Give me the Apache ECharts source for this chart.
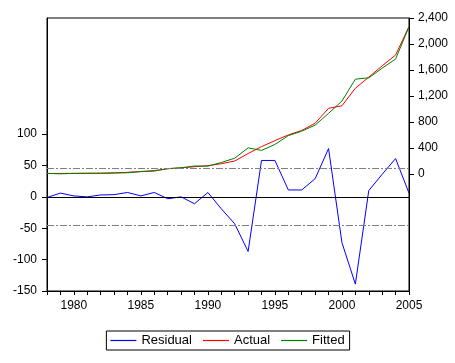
<!DOCTYPE html>
<html>
<head>
<meta charset="utf-8">
<script src="https://cdn.jsdelivr.net/npm/echarts@6/dist/echarts.min.js"></script>
<style>
html,body{margin:0;padding:0;background:#fff;}
#chart{width:455px;height:363px;}
</style>
</head>
<body>
<div id="chart"></div>
<script>
var years = [1978,1979,1980,1981,1982,1983,1984,1985,1986,1987,1988,1989,1990,1991,1992,1993,1994,1995,1996,1997,1998,1999,2000,2001,2002,2003,2004,2005];
var residual = [-1,6,1.5,0,3,3.5,7,1.5,7,-3,0,-11,7,-19,-43,-87,58,58,11,11,29,77,-73,-139,10,36,61,6];
var actual = [8,9,10,11,13,18,26,38,52,80,95,112,128,158,200,315,421,513,601,670,781,1010,1050,1320,1490,1664,1830,2270];
var fitted = [9,3,8.5,11,10,14.5,19,36.5,45,83,95,123,121,177,243,402,363,455,590,659,752,933,1123,1459,1480,1628,1769,2264];
var xLabelYears = [1980,1985,1990,1995,2000,2005];
var leftTicks = [-150,-100,-50,0,50,100];
var rightTicks = [0,400,800,1200,1600,2000,2400];
var seBand = 45.5;

function pairs(v){ return years.map(function(y,i){ return [y, v[i]]; }); }

var FONT = '"Liberation Sans", Arial, sans-serif';
var chart = echarts.init(document.getElementById('chart'), null, {renderer:'canvas'});
chart.setOption({
  animation:false,
  backgroundColor:'#fff',
  grid:{left:47,right:46,top:18,bottom:72,show:true,borderColor:'#000',borderWidth:1,backgroundColor:'transparent'},
  legend:{
    data:[{name:'Residual',icon:'rect'},{name:'Actual',icon:'rect'},{name:'Fitted',icon:'rect'}],
    top:331,left:'center',
    itemWidth:26,itemHeight:1.2,itemGap:11,
    padding:[3,5,3,4],
    borderColor:'#000',borderWidth:1,borderRadius:0,backgroundColor:'#fff',
    textStyle:{fontFamily:FONT,fontSize:13,color:'#000'}
  },
  xAxis:{
    type:'value',min:1978,max:2005,
    axisLine:{show:true,onZero:false,lineStyle:{color:'#000',width:1}},
    axisTick:{show:true,length:4,inside:false,customValues:years,lineStyle:{color:'#000'}},
    axisLabel:{customValues:xLabelYears,margin:9,fontFamily:FONT,fontSize:12,color:'#000',
      formatter:function(v){ return String(v); }},
    splitLine:{show:false}
  },
  yAxis:[{
    type:'value',min:-150,max:285,position:'left',
    axisLine:{show:true,onZero:false,lineStyle:{color:'#000'}},
    axisTick:{show:true,length:5,customValues:leftTicks,lineStyle:{color:'#000'}},
    axisLabel:{customValues:leftTicks,margin:10,fontFamily:FONT,fontSize:12,color:'#000'},
    splitLine:{show:false}
  },{
    type:'value',min:-1800,max:2400,position:'right',
    axisLine:{show:true,onZero:false,lineStyle:{color:'#000'}},
    axisTick:{show:true,length:5,customValues:rightTicks,lineStyle:{color:'#000'}},
    axisLabel:{customValues:rightTicks,margin:9,fontFamily:FONT,fontSize:12,color:'#000',
      formatter:function(v){ return v.toLocaleString('en-US'); }},
    splitLine:{show:false}
  }],
  series:[{
    name:'Residual',type:'line',yAxisIndex:0,data:pairs(residual),
    symbol:'none',lineStyle:{color:'#0000ff',width:1},itemStyle:{color:'#0000ff'},
    markLine:{
      silent:true,symbol:'none',label:{show:false},animation:false,
      data:[
        {yAxis:0,lineStyle:{color:'#000',type:'solid',width:1}},
        {yAxis:seBand,lineStyle:{color:'#808080',type:[7,2,2,2],width:1}},
        {yAxis:-seBand,lineStyle:{color:'#808080',type:[7,2,2,2],width:1}}
      ]
    },
    z:2
  },{
    name:'Actual',type:'line',yAxisIndex:1,data:pairs(actual),
    symbol:'none',lineStyle:{color:'#ff0000',width:1},itemStyle:{color:'#ff0000'},z:3
  },{
    name:'Fitted',type:'line',yAxisIndex:1,data:pairs(fitted),
    symbol:'none',lineStyle:{color:'#008000',width:1},itemStyle:{color:'#008000'},z:4
  }]
});
</script>
</body>
</html>
